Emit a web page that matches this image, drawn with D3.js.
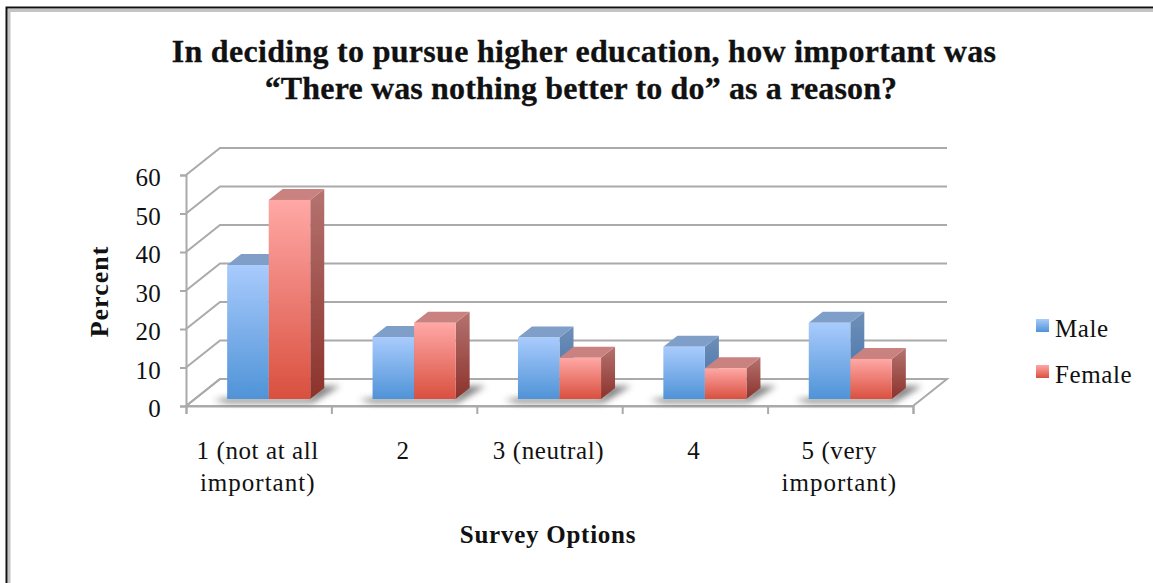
<!DOCTYPE html>
<html><head><meta charset="utf-8">
<script src="https://cdn.jsdelivr.net/npm/d3@7"></script>
<style>html,body{margin:0;padding:0;background:#fff}svg{display:block}text{font-family:"Liberation Serif",serif;fill:#111}</style>
</head><body><div id="c"></div>
<script>
const categories=[["1 (not at all","important)"],["2"],["3 (neutral)"],["4"],["5 (very","important)"]];
const seriesNames=["Male","Female"];
const male=[34.8,16.1,16,13.6,19.8];
const female=[51.7,19.8,10.7,8,10.4];
const yTicks=[0,10,20,30,40,50,60];
const titleLines=["In deciding to pursue higher education, how important was","“There was nothing better to do” as a reason?"];
const xTitle="Survey Options", yTitle="Percent";

const W=1153,H=583;
const svg=d3.select("#c").append("svg").attr("width",W).attr("height",H);
const defs=svg.append("defs");
const grad=(id,a,b)=>{const g=defs.append("linearGradient").attr("id",id).attr("x1",0).attr("y1",0).attr("x2",0).attr("y2",1);
 g.append("stop").attr("offset",0).attr("stop-color",a);g.append("stop").attr("offset",1).attr("stop-color",b);};
grad("gm","#a9cbfd","#4f93d7");grad("gf","#ffa8a6","#d9503f");
grad("gms","#6f8fb8","#3c6fa6");grad("gfs","#b57370","#8c322b");
defs.append("filter").attr("id","sh").attr("x","-20%").attr("y","-50%").attr("width","140%").attr("height","200%").append("feGaussianBlur").attr("stdDeviation",3);
defs.append("filter").attr("id","soft").append("feGaussianBlur").attr("stdDeviation",0.5);

// frame
svg.append("path").attr("d",`M9 ${H}V10.5H${W}`).attr("fill","none").attr("stroke","#c4c4c4").attr("stroke-width",3);
svg.append("path").attr("d",`M6.5 ${H}V7.5H${W}`).attr("fill","none").attr("stroke","#111").attr("stroke-width",2);

// scales
const x0=186,x1=913,yB=406,yT=175,dx=34,dy=-27;
const x=d3.scaleBand().domain(d3.range(categories.length)).range([x0,x1]).paddingInner(0).paddingOuter(0);
const y=d3.scaleLinear().domain([0,60]).range([yB,yT]);
const inner=d3.scaleBand().domain(seriesNames).range([0,x.bandwidth()]).paddingInner(0).paddingOuter(0.75);
const barDx=14,barDy=-11,barLift=-7,barShift=10;

const g=svg.append("g").attr("filter","url(#soft)");
const grid="#aaaaaa";
g.append("path").attr("d",`M${x0} ${yB}L${x0+dx} ${yB+dy}H${x1+dx}L${x1} ${yB}Z`).attr("fill","#fff").attr("stroke",grid).attr("stroke-width",2);
yTicks.forEach(t=>{
 g.append("path").attr("d",`M${x0} ${y(t)}L${x0+dx} ${y(t)+dy}H${x1+dx}`).attr("fill","none").attr("stroke",grid).attr("stroke-width",2);
});
const axL=g.append("g").attr("transform",`translate(${x0},0)`).call(d3.axisLeft(y).tickValues(yTicks).tickSize(6).tickFormat(""));
axL.selectAll("path,line").attr("stroke",grid).attr("stroke-width",2);
const xTickVals=d3.range(categories.length+1);
const xt=d3.scaleLinear().domain([0,categories.length]).range([x0,x1]);
const axB=g.append("g").attr("transform",`translate(0,${yB})`).call(d3.axisBottom(xt).tickValues(xTickVals).tickSize(8).tickFormat(""));
axB.selectAll("path,line").attr("stroke",grid).attr("stroke-width",2);

// bars
const base=y(0)+barLift;
categories.forEach((c,i)=>{
 const xL=x(i)+inner(seriesNames[0])+barShift, w=inner.bandwidth(), xR=xL+2*w;
 svg.append("path").attr("d",`M${xL-14} ${base+1}L${xL} ${base+4}H${xR+2}L${xR+30} ${base-13}H${xR+8}L${xR} ${base-1}H${xL}Z`).attr("fill","#666").attr("opacity",.8).attr("filter","url(#sh)");
});
const bars=svg.append("g").attr("filter","url(#soft)");
[[male,seriesNames[0],"m"],[female,seriesNames[1],"f"]].forEach(([vals,name,k])=>{
 vals.forEach((v,i)=>{
  const bx=x(i)+inner(name)+barShift, w=inner.bandwidth(), top=y(v)+barLift, b=base;
  bars.append("path").attr("d",`M${bx+w} ${top}l${barDx} ${barDy}V${b+barDy}l${-barDx} ${-barDy}Z`).attr("fill",`url(#g${k}s)`);
  bars.append("path").attr("d",`M${bx} ${top}l${barDx} ${barDy}h${w}l${-barDx} ${-barDy}Z`).attr("fill",k=="m"?"#7f9fc9":"#c98280");
  bars.append("rect").attr("x",bx).attr("y",top).attr("width",w).attr("height",b-top).attr("fill",`url(#g${k})`);
 });
});

// tick labels
yTicks.forEach(t=>svg.append("text").attr("x",161).attr("y",y(t)+11).attr("text-anchor","end").attr("font-size",25).attr("letter-spacing",0.3).text(t));
categories.forEach((c,i)=>c.forEach((l,j)=>svg.append("text").attr("x",x(i)+x.bandwidth()/2-1).attr("y",459+j*32).attr("text-anchor","middle").attr("font-size",25).attr("letter-spacing",j?1:0.6).text(l)));
// titles
titleLines.forEach((l,j)=>svg.append("text").attr("x",j?581:584).attr("y",62+j*37).attr("text-anchor","middle").attr("font-size",32).attr("font-weight",700).attr("letter-spacing",j?0.15:0.3).attr("stroke","#111").attr("stroke-width",0.3).text(l));
svg.append("text").attr("x",548).attr("y",543).attr("text-anchor","middle").attr("font-size",25).attr("font-weight",700).attr("letter-spacing",0.75).text(xTitle);
svg.append("text").attr("transform","translate(108,291.5) rotate(-90)").attr("text-anchor","middle").attr("font-size",26).attr("font-weight",700).attr("letter-spacing",1).text(yTitle);
// legend
seriesNames.forEach((n,j)=>{
 const ly=328+j*46;
 svg.append("rect").attr("x",1036).attr("y",ly-9).attr("width",13).attr("height",13).attr("fill",`url(#g${j?"f":"m"})`);
 svg.append("text").attr("x",1055).attr("y",ly+9).attr("font-size",25).attr("letter-spacing",0.6).text(n);
});
</script></body></html>
